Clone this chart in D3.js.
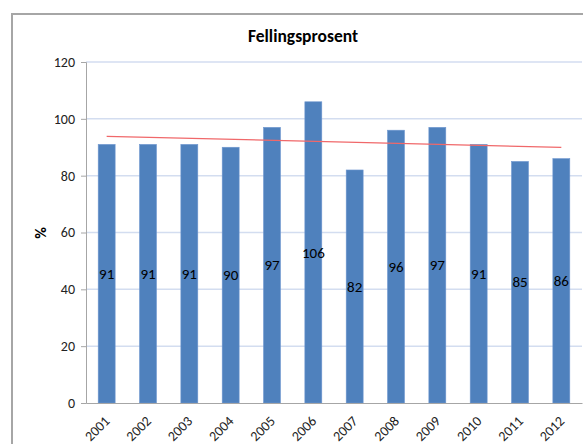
<!DOCTYPE html>
<html>
<head>
<meta charset="utf-8">
<script src="https://cdn.jsdelivr.net/npm/d3@7"></script>
<style>
  body { margin: 0; background: #fff; }
  svg { display: block; font-family: Carlito, Calibri, "Open Sans", sans-serif; }
</style>
</head>
<body>
<svg id="chart" width="583" height="444"></svg>
<script>
// data
const years = ['2001','2002','2003','2004','2005','2006','2007','2008','2009','2010','2011','2012']
const values = [91, 91, 91, 90, 97, 106, 82, 96, 97, 91, 85, 86]
const yTicks = [0, 20, 40, 60, 80, 100, 120]

;(function () {
  let svg = d3.select('#chart')
  let font = 'Carlito, Calibri, "Open Sans", sans-serif'

  // outer frame (cut off on right/bottom like the reference)
  svg.append('rect')
    .attr('x', 12).attr('y', 14)
    .attr('width', 600).attr('height', 460)
    .attr('fill', '#fff')
    .attr('stroke', '#a6a6a6')
    .attr('stroke-width', 2)

  let pLeft = 86, pRight = 582, pTop = 62, pBottom = 403

  let x = d3.scaleBand()
    .domain(years)
    .range([pLeft, pRight])
    .paddingInner(0.59)
    .paddingOuter(0.295)

  let y = d3.scaleLinear()
    .domain([0, 120])
    .range([pBottom, pTop])

  // gridlines
  svg.append('g')
    .selectAll('line')
    .data(yTicks.filter(d => d > 0))
    .enter().append('line')
      .attr('x1', pLeft).attr('x2', pRight)
      .attr('y1', d => y(d)).attr('y2', d => y(d))
      .attr('stroke', '#d3ddf0')
      .attr('stroke-width', 1.5)

  // bars
  svg.append('g')
    .selectAll('rect')
    .data(values)
    .enter().append('rect')
      .attr('x', (d,i) => x(years[i]))
      .attr('y', d => y(d))
      .attr('width', x.bandwidth())
      .attr('height', d => pBottom - y(d))
      .attr('fill', '#4f81bd')
      .attr('stroke', '#6f97cf')
      .attr('stroke-width', 0.6)

  // linear trendline
  let n = values.length
  let xs = d3.range(1, n + 1)
  let mx = d3.mean(xs), my = d3.mean(values)
  let slope = d3.sum(xs, (v,i) => (v - mx) * (values[i] - my)) / d3.sum(xs, v => (v - mx) * (v - mx))
  let icpt = my - slope * mx
  let cx = i => x(years[i]) + x.bandwidth() / 2
  svg.append('line')
    .attr('x1', cx(0)).attr('y1', y(icpt + slope * 1))
    .attr('x2', cx(n - 1)).attr('y2', y(icpt + slope * n))
    .attr('stroke', '#f0686a')
    .attr('stroke-width', 1.2)

  // data labels, centred in bar
  svg.append('g')
    .selectAll('text')
    .data(values)
    .enter().append('text')
      .attr('x', (d,i) => cx(i))
      .attr('y', d => (y(d) + pBottom) / 2)
      .attr('dy', '0.35em')
      .attr('text-anchor', 'middle')
      .attr('font-size', 15)
      .attr('fill', '#000')
      .text(d => d)

  // y axis
  let yAxis = svg.append('g')
    .attr('transform', `translate(${pLeft},0)`)
    .call(d3.axisLeft(y).tickValues(yTicks).tickSize(5).tickPadding(6))
  yAxis.select('.domain').attr('stroke', '#a6a6a6')
  yAxis.selectAll('.tick line').attr('stroke', '#a6a6a6')
  yAxis.selectAll('.tick text').attr('font-size', 14).attr('fill', '#222')
    .style('font-family', font)

  // x axis
  let xAxis = svg.append('g')
    .attr('transform', `translate(0,${pBottom})`)
    .call(d3.axisBottom(x).tickSize(0).tickPadding(0))
  xAxis.select('.domain').attr('stroke', '#a6a6a6')
  xAxis.selectAll('.tick text')
    .attr('font-size', 14)
    .attr('fill', '#222')
    .style('font-family', font)
    .attr('text-anchor', 'end')
    .attr('y', 0)
    .attr('dy', '0.7em')
    .attr('transform', 'translate(-3,12) rotate(-45)')

  // title
  svg.append('text')
    .attr('x', 303).attr('y', 42)
    .attr('text-anchor', 'middle')
    .attr('font-size', 17.5)
    .attr('font-weight', 'bold')
    .text('Fellingsprosent')

  // y axis title
  svg.append('text')
    .attr('transform', 'translate(46,233) rotate(-90)')
    .attr('text-anchor', 'middle')
    .attr('font-size', 16)
    .attr('font-weight', 'bold')
    .text('%')
})()
</script>
</body>
</html>
